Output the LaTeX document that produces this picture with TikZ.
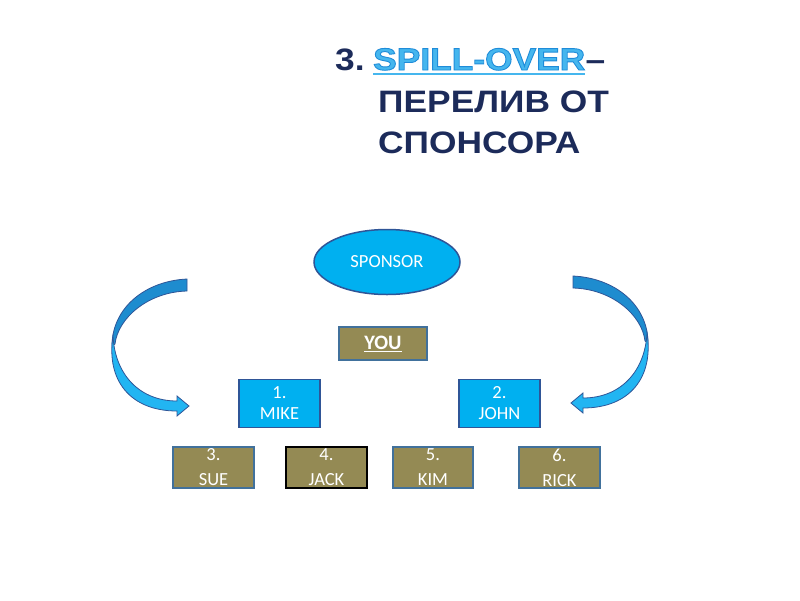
\documentclass[tikz,border=0pt]{standalone}
\usepackage{fontspec}
\setmainfont{Carlito}
\newfontfamily\titlefont{Liberation Sans}[FakeStretch=1.14]
\usepackage{tikz}
\usetikzlibrary{positioning,shapes.geometric}

\definecolor{navy}{HTML}{1C2B5A}
\definecolor{skyfill}{HTML}{00B0F0}
\definecolor{olivefill}{HTML}{948A54}
\definecolor{edgeblue}{HTML}{2F5597}
\definecolor{greyblue}{HTML}{41719C}
\definecolor{spillblue}{HTML}{45B6EE}
\definecolor{swooshdark}{HTML}{1E8CCF}
\definecolor{swooshlight}{HTML}{22B5F2}

% outlined lettering for the highlighted word
\newcommand\outlined[1]{\special{pdf:literal direct 2 Tr 0.9 w 0.12 0.55 0.85 RG}#1\special{pdf:literal direct 0 Tr}}

\tikzset{
  swoosh/.pic={
    % upper half of the ribbon
    \fill[swooshdark, draw=edgeblue, line width=0.8] (187,279) .. controls (145,281) and (112,308) .. (112,346)
      -- (115,344) .. controls (118,318) and (148,292) .. (187,291) -- cycle;
    % lower half with the head
    \fill[swooshlight, draw=edgeblue, line width=0.8] (113,336) .. controls (115,375) and (140,401) .. (177,401)
      -- (177,396) -- (189,406) -- (177,416) -- (177,411)
      .. controls (130,411) and (106,380) .. (113,336) -- cycle;
  }
}

\begin{document}
\begin{tikzpicture}[x=1pt, y=-1pt,
    every node/.style={font=\fontsize{18.5}{21}\selectfont, text=white, inner sep=0pt, align=center},
    headline/.style={font=\titlefont\bfseries\fontsize{31}{41}\selectfont, text=navy, anchor=base west},
    bluebox/.style={draw=edgeblue, line width=1.5, fill=skyfill, minimum width=81, minimum height=48},
    olivebox/.style={draw=greyblue, line width=1.5, fill=olivefill, minimum width=81, minimum height=41, font=\fontsize{18.5}{25}\selectfont}]
  \useasboundingbox (0,0) rectangle (800,600);

  % title
  \node[headline] (num) at (335,70) {3.};
  \node[headline, text=spillblue] (spill) at (373,70) {\outlined{SPILL-OVER}};
  \node[headline, right=0pt of spill.base east, anchor=base west] (dash) {–};
  \draw[spillblue, line width=2.5] ([yshift=-4]spill.base west) -- ([yshift=-4]spill.base east);
  \node[headline] (line2) at (378,112) {ПЕРЕЛИВ ОТ};
  \node[headline] (line3) at (378,153) {СПОНСОРА};

  % tree
  \node[ellipse, draw=edgeblue, line width=1.5, fill=skyfill, minimum width=146, minimum height=65] (sponsor) at (387,262) {SPONSOR};
  \node[draw=greyblue, line width=1.5, fill=olivefill, minimum width=88, minimum height=33, font=\fontsize{20.5}{23}\selectfont\bfseries] (you) at (383,343.5) {\underline{YOU}};
  \node[bluebox] (mike) at (279.5,403.5) {1.\\MIKE};
  \node[bluebox] (john) at (499.5,403.5) {2.\\JOHN};
  \node[olivebox] (sue) at (213.5,467.5) {3.\\SUE};
  \node[olivebox, draw=black] (jack) at (326.5,467.5) {4.\\JACK};
  \node[olivebox, minimum width=80] (kim) at (433,467.5) {5.\\KIM};
  \node[olivebox] (rick) at (559.5,467.5) {6.\\RICK};

  % curved arrows
  \pic at (0,0) {swoosh};
  \pic[xscale=-1] at (760,-3) {swoosh};
\end{tikzpicture}
\end{document}
